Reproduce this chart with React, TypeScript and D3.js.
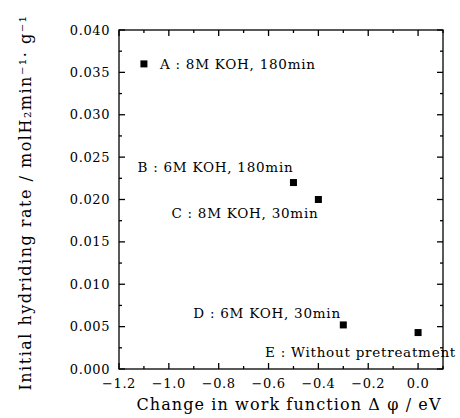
import React from "react";
import * as d3 from "d3";

const xValues = [-1.1, -0.5, -0.4, -0.3, 0.0];
const yValues = [0.036, 0.022, 0.020, 0.0052, 0.0043];
const pointLabels = [
  "A : 8M KOH, 180min",
  "B : 6M KOH, 180min",
  "C : 8M KOH, 30min",
  "D : 6M KOH, 30min",
  "E : Without pretreatment",
];
const xMajorTicks = [-1.2, -1.0, -0.8, -0.6, -0.4, -0.2, 0.0];
const xMinorTicks = [-1.1, -0.9, -0.7, -0.5, -0.3, -0.1, 0.1];
const yMajorTicks = [0, 0.005, 0.01, 0.015, 0.02, 0.025, 0.03, 0.035, 0.04];
const yMinorTicks = [0.0025, 0.0075, 0.0125, 0.0175, 0.0225, 0.0275, 0.0325, 0.0375];
const xDomain = [-1.2, 0.1];
const yDomain = [0, 0.04];

// label anchor offsets relative to the marker (pixels)
const labelOffsets: [number, number][] = [
  [16, 5],
  [-156, -11],
  [-147, 18],
  [-150, -7],
  [-153, 24],
];

const W = 460;
const H = 418;
const M = { left: 119, right: 443, top: 30, bottom: 369 };
const FONT = "'DejaVu Serif', 'Liberation Serif', serif";

export default function App() {
  const x = d3.scaleLinear().domain(xDomain).range([M.left, M.right]);
  const y = d3.scaleLinear().domain(yDomain).range([M.bottom, M.top]);
  const fmtX = (v: number) => (Math.abs(v) < 1e-9 ? "0.0" : d3.format(".1f")(v).replace("-", "\u2212"));
  const fmtY = d3.format(".3f");
  const major = 6;
  const minor = 3;
  const sw = 1.3;
  return (
    <svg width={W} height={H} style={{ position: "absolute", left: 0, top: 0, background: "#fff" }}>
      <rect x={0} y={0} width={W} height={H} fill="#fff" />
      {/* frame */}
      <rect x={M.left} y={M.top} width={M.right - M.left} height={M.bottom - M.top} fill="none" stroke="#000" strokeWidth={sw} />
      {/* x ticks */}
      {xMajorTicks.map((t) => (
        <g key={"xm" + t}>
          <line x1={x(t)} x2={x(t)} y1={M.bottom} y2={M.bottom - major} stroke="#000" strokeWidth={sw} />
          <line x1={x(t)} x2={x(t)} y1={M.top} y2={M.top + major} stroke="#000" strokeWidth={sw} />
          <text x={x(t)} y={388} textAnchor="middle" fontFamily={FONT} fontSize={13} letterSpacing={0.6} fill="#000">
            {fmtX(t)}
          </text>
        </g>
      ))}
      {xMinorTicks.map((t) => (
        <g key={"xn" + t}>
          <line x1={x(t)} x2={x(t)} y1={M.bottom} y2={M.bottom - minor} stroke="#000" strokeWidth={sw} />
          <line x1={x(t)} x2={x(t)} y1={M.top} y2={M.top + minor} stroke="#000" strokeWidth={sw} />
        </g>
      ))}
      {/* y ticks */}
      {yMajorTicks.map((t) => (
        <g key={"ym" + t}>
          <line x1={M.left} x2={M.left + major} y1={y(t)} y2={y(t)} stroke="#000" strokeWidth={sw} />
          <line x1={M.right} x2={M.right - major} y1={y(t)} y2={y(t)} stroke="#000" strokeWidth={sw} />
          <text x={110} y={y(t) + 4.5} textAnchor="end" fontFamily={FONT} fontSize={13} letterSpacing={0.6} fill="#000">
            {fmtY(t)}
          </text>
        </g>
      ))}
      {yMinorTicks.map((t) => (
        <g key={"yn" + t}>
          <line x1={M.left} x2={M.left + minor} y1={y(t)} y2={y(t)} stroke="#000" strokeWidth={sw} />
          <line x1={M.right} x2={M.right - minor} y1={y(t)} y2={y(t)} stroke="#000" strokeWidth={sw} />
        </g>
      ))}
      {/* points */}
      {xValues.map((v, i) => (
        <rect key={"p" + i} x={x(v) - 3.5} y={y(yValues[i]) - 3.5} width={7} height={7} fill="#000" />
      ))}
      {/* point labels */}
      {pointLabels.map((s, i) => (
        <text
          key={"l" + i}
          x={x(xValues[i]) + labelOffsets[i][0]}
          y={y(yValues[i]) + labelOffsets[i][1]}
          fontFamily={FONT}
          fontSize={13.5}
          letterSpacing={0.75}
          fill="#000"
        >
          {s}
        </text>
      ))}
      {/* axis titles */}
      <text x={289} y={410} textAnchor="middle" fontFamily={FONT} fontSize={16} letterSpacing={1.1} fill="#000">
        Change in work function Δ φ / eV
      </text>
      <text
        transform={`translate(31, ${(M.top + M.bottom) / 2 + 3}) rotate(-90)`}
        textAnchor="middle"
        fontFamily={FONT}
        fontSize={16}
        letterSpacing={1.5}
        fill="#000"
      >
        Initial hydriding rate / molH₂min⁻¹· g⁻¹
      </text>
    </svg>
  );
}
